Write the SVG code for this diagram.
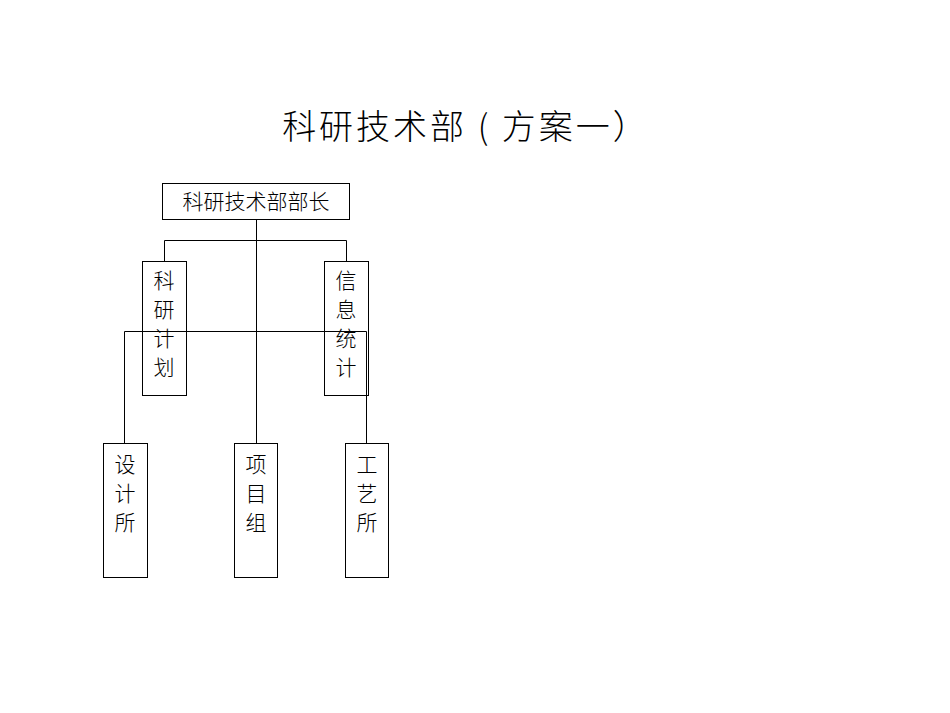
<svg xmlns="http://www.w3.org/2000/svg" width="950" height="713" viewBox="0 0 950 713">
<style>
.b{fill:none;stroke:#000;stroke-width:1}
.c{fill:none;stroke:#000;stroke-width:1}
text{font-family:"Noto Sans CJK SC","Liberation Sans",sans-serif;fill:#000;font-weight:300}
.t{font-size:21px;text-anchor:middle}
</style>
<rect width="950" height="713" fill="#fff"/>
<text x="466" y="139" font-size="34" text-anchor="middle" letter-spacing="3">科研技术部 ( 方案一）</text>
<g id="connectors">
<path class="c" d="M256.5 219V443M164.5 261V240.5H346.5V261M124.5 443V331.5H366.5V443"/>
</g>
<g id="n0"><rect class="b" x="162.5" y="183.5" width="187" height="36"/><text class="t" x="256" y="209" font-size="22">科研技术部部长</text></g>
<g id="n1"><rect class="b" x="142.5" y="261.5" width="44" height="134"/><text class="t" x="164" y="288">科</text><text class="t" x="164" y="317">研</text><text class="t" x="164" y="346">计</text><text class="t" x="164" y="375">划</text></g>
<g id="n2"><rect class="b" x="324.5" y="261.5" width="44" height="134"/><text class="t" x="346" y="288">信</text><text class="t" x="346" y="317">息</text><text class="t" x="346" y="346">统</text><text class="t" x="346" y="375">计</text></g>
<g id="n3"><rect class="b" x="103.5" y="443.5" width="44" height="134"/><text class="t" x="125" y="472">设</text><text class="t" x="125" y="501">计</text><text class="t" x="125" y="530">所</text></g>
<g id="n4"><rect class="b" x="234.5" y="443.5" width="43" height="134"/><text class="t" x="256" y="472">项</text><text class="t" x="256" y="501">目</text><text class="t" x="256" y="530">组</text></g>
<g id="n5"><rect class="b" x="345.5" y="443.5" width="43" height="134"/><text class="t" x="367" y="472">工</text><text class="t" x="367" y="501">艺</text><text class="t" x="367" y="530">所</text></g>
</svg>
